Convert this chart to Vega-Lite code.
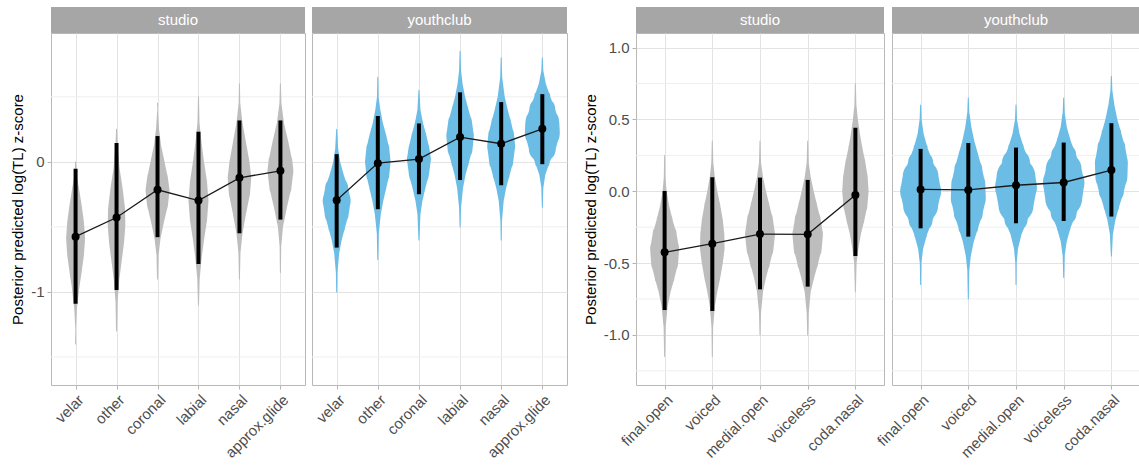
{
  "$schema": "https://vega.github.io/schema/vega-lite/v6.json",
  "padding": {"left": 10, "top": 7, "right": 0, "bottom": 0},
  "background": "white",
  "config": {
    "font": "Liberation Sans",
    "axis": {"labelFont": "Liberation Sans", "titleFont": "Liberation Sans", "labelFontSize": 15, "labelColor": "#4d4d4d", "tickColor": "#b3b3b3", "tickSize": 4, "domain": false, "titleFontWeight": "normal", "titleFontSize": 15, "titleColor": "#000000", "gridColor": "#e3e3e3"},
    "axisX": {"labelAngle": -45, "labelAlign": "right", "labelBaseline": "top", "labelPadding": 3, "grid": true, "title": null},
    "axisY": {"labelPadding": 3, "titlePadding": 5, "grid": true}
  },
  "datasets": {
    "gL": [{"g": -1.5}, {"g": -0.5}, {"g": 0.5}],
    "gR": [{"g": -1.25}, {"g": -0.75}, {"g": -0.25}, {"g": 0.25}, {"g": 0.75}],
    "vL": [
      {"s":"studio","c":"velar","v":0.0,"d":0},{"s":"studio","c":"velar","v":-0.1,"d":0.1},{"s":"studio","c":"velar","v":-0.2,"d":0.33},{"s":"studio","c":"velar","v":-0.33,"d":0.6},{"s":"studio","c":"velar","v":-0.46,"d":0.83},{"s":"studio","c":"velar","v":-0.59,"d":0.95},{"s":"studio","c":"velar","v":-0.72,"d":0.83},{"s":"studio","c":"velar","v":-0.85,"d":0.6},{"s":"studio","c":"velar","v":-0.97,"d":0.37},{"s":"studio","c":"velar","v":-1.13,"d":0.13},{"s":"studio","c":"velar","v":-1.28,"d":0.03},{"s":"studio","c":"velar","v":-1.4,"d":0},
      {"s":"studio","c":"other","v":0.25,"d":0},{"s":"studio","c":"other","v":0.13,"d":0.1},{"s":"studio","c":"other","v":-0.05,"d":0.3},{"s":"studio","c":"other","v":-0.2,"d":0.6},{"s":"studio","c":"other","v":-0.36,"d":0.85},{"s":"studio","c":"other","v":-0.49,"d":0.88},{"s":"studio","c":"other","v":-0.62,"d":0.75},{"s":"studio","c":"other","v":-0.77,"d":0.5},{"s":"studio","c":"other","v":-0.92,"d":0.25},{"s":"studio","c":"other","v":-1.08,"d":0.1},{"s":"studio","c":"other","v":-1.3,"d":0},
      {"s":"studio","c":"coronal","v":0.45,"d":0},{"s":"studio","c":"coronal","v":0.4,"d":0.03},{"s":"studio","c":"coronal","v":0.25,"d":0.15},{"s":"studio","c":"coronal","v":0.13,"d":0.35},{"s":"studio","c":"coronal","v":0.0,"d":0.7},{"s":"studio","c":"coronal","v":-0.13,"d":1.05},{"s":"studio","c":"coronal","v":-0.22,"d":1.2},{"s":"studio","c":"coronal","v":-0.33,"d":1.05},{"s":"studio","c":"coronal","v":-0.46,"d":0.65},{"s":"studio","c":"coronal","v":-0.59,"d":0.3},{"s":"studio","c":"coronal","v":-0.72,"d":0.1},{"s":"studio","c":"coronal","v":-0.9,"d":0},
      {"s":"studio","c":"labial","v":0.5,"d":0},{"s":"studio","c":"labial","v":0.3,"d":0.1},{"s":"studio","c":"labial","v":0.15,"d":0.3},{"s":"studio","c":"labial","v":0.0,"d":0.55},{"s":"studio","c":"labial","v":-0.15,"d":0.85},{"s":"studio","c":"labial","v":-0.3,"d":1.0},{"s":"studio","c":"labial","v":-0.45,"d":0.85},{"s":"studio","c":"labial","v":-0.6,"d":0.55},{"s":"studio","c":"labial","v":-0.75,"d":0.3},{"s":"studio","c":"labial","v":-0.9,"d":0.12},{"s":"studio","c":"labial","v":-1.1,"d":0},
      {"s":"studio","c":"nasal","v":0.6,"d":0},{"s":"studio","c":"nasal","v":0.45,"d":0.08},{"s":"studio","c":"nasal","v":0.3,"d":0.3},{"s":"studio","c":"nasal","v":0.15,"d":0.65},{"s":"studio","c":"nasal","v":0.0,"d":1.0},{"s":"studio","c":"nasal","v":-0.12,"d":1.18},{"s":"studio","c":"nasal","v":-0.25,"d":1.05},{"s":"studio","c":"nasal","v":-0.4,"d":0.65},{"s":"studio","c":"nasal","v":-0.55,"d":0.3},{"s":"studio","c":"nasal","v":-0.7,"d":0.1},{"s":"studio","c":"nasal","v":-0.9,"d":0},
      {"s":"studio","c":"approx.glide","v":0.6,"d":0},{"s":"studio","c":"approx.glide","v":0.45,"d":0.1},{"s":"studio","c":"approx.glide","v":0.3,"d":0.35},{"s":"studio","c":"approx.glide","v":0.15,"d":0.8},{"s":"studio","c":"approx.glide","v":0.0,"d":1.2},{"s":"studio","c":"approx.glide","v":-0.07,"d":1.3},{"s":"studio","c":"approx.glide","v":-0.2,"d":1.1},{"s":"studio","c":"approx.glide","v":-0.35,"d":0.65},{"s":"studio","c":"approx.glide","v":-0.5,"d":0.25},{"s":"studio","c":"approx.glide","v":-0.65,"d":0.08},{"s":"studio","c":"approx.glide","v":-0.85,"d":0},
      {"s":"youthclub","c":"velar","v":0.25,"d":0},{"s":"youthclub","c":"velar","v":0.1,"d":0.15},{"s":"youthclub","c":"velar","v":0.0,"d":0.35},{"s":"youthclub","c":"velar","v":-0.1,"d":0.7},{"s":"youthclub","c":"velar","v":-0.2,"d":1.15},{"s":"youthclub","c":"velar","v":-0.3,"d":1.4},{"s":"youthclub","c":"velar","v":-0.4,"d":1.2},{"s":"youthclub","c":"velar","v":-0.5,"d":0.85},{"s":"youthclub","c":"velar","v":-0.6,"d":0.5},{"s":"youthclub","c":"velar","v":-0.7,"d":0.25},{"s":"youthclub","c":"velar","v":-0.85,"d":0.08},{"s":"youthclub","c":"velar","v":-1.0,"d":0},
      {"s":"youthclub","c":"other","v":0.65,"d":0},{"s":"youthclub","c":"other","v":0.5,"d":0.08},{"s":"youthclub","c":"other","v":0.4,"d":0.25},{"s":"youthclub","c":"other","v":0.3,"d":0.5},{"s":"youthclub","c":"other","v":0.2,"d":0.85},{"s":"youthclub","c":"other","v":0.1,"d":1.15},{"s":"youthclub","c":"other","v":0.0,"d":1.28},{"s":"youthclub","c":"other","v":-0.1,"d":1.15},{"s":"youthclub","c":"other","v":-0.2,"d":0.85},{"s":"youthclub","c":"other","v":-0.3,"d":0.55},{"s":"youthclub","c":"other","v":-0.4,"d":0.3},{"s":"youthclub","c":"other","v":-0.55,"d":0.1},{"s":"youthclub","c":"other","v":-0.75,"d":0},
      {"s":"youthclub","c":"coronal","v":0.55,"d":0},{"s":"youthclub","c":"coronal","v":0.4,"d":0.15},{"s":"youthclub","c":"coronal","v":0.3,"d":0.4},{"s":"youthclub","c":"coronal","v":0.2,"d":0.75},{"s":"youthclub","c":"coronal","v":0.1,"d":1.05},{"s":"youthclub","c":"coronal","v":0.02,"d":1.2},{"s":"youthclub","c":"coronal","v":-0.1,"d":1.0},{"s":"youthclub","c":"coronal","v":-0.2,"d":0.65},{"s":"youthclub","c":"coronal","v":-0.3,"d":0.35},{"s":"youthclub","c":"coronal","v":-0.4,"d":0.15},{"s":"youthclub","c":"coronal","v":-0.6,"d":0},
      {"s":"youthclub","c":"labial","v":0.85,"d":0},{"s":"youthclub","c":"labial","v":0.7,"d":0.1},{"s":"youthclub","c":"labial","v":0.6,"d":0.25},{"s":"youthclub","c":"labial","v":0.5,"d":0.5},{"s":"youthclub","c":"labial","v":0.4,"d":0.85},{"s":"youthclub","c":"labial","v":0.3,"d":1.2},{"s":"youthclub","c":"labial","v":0.2,"d":1.38},{"s":"youthclub","c":"labial","v":0.1,"d":1.25},{"s":"youthclub","c":"labial","v":0.0,"d":0.9},{"s":"youthclub","c":"labial","v":-0.1,"d":0.55},{"s":"youthclub","c":"labial","v":-0.2,"d":0.3},{"s":"youthclub","c":"labial","v":-0.35,"d":0.1},{"s":"youthclub","c":"labial","v":-0.5,"d":0},
      {"s":"youthclub","c":"nasal","v":0.8,"d":0},{"s":"youthclub","c":"nasal","v":0.65,"d":0.1},{"s":"youthclub","c":"nasal","v":0.5,"d":0.35},{"s":"youthclub","c":"nasal","v":0.4,"d":0.65},{"s":"youthclub","c":"nasal","v":0.3,"d":1.0},{"s":"youthclub","c":"nasal","v":0.2,"d":1.3},{"s":"youthclub","c":"nasal","v":0.12,"d":1.4},{"s":"youthclub","c":"nasal","v":0.0,"d":1.2},{"s":"youthclub","c":"nasal","v":-0.1,"d":0.85},{"s":"youthclub","c":"nasal","v":-0.2,"d":0.5},{"s":"youthclub","c":"nasal","v":-0.3,"d":0.25},{"s":"youthclub","c":"nasal","v":-0.45,"d":0.08},{"s":"youthclub","c":"nasal","v":-0.6,"d":0},
      {"s":"youthclub","c":"approx.glide","v":0.8,"d":0},{"s":"youthclub","c":"approx.glide","v":0.7,"d":0.1},{"s":"youthclub","c":"approx.glide","v":0.6,"d":0.35},{"s":"youthclub","c":"approx.glide","v":0.5,"d":0.8},{"s":"youthclub","c":"approx.glide","v":0.4,"d":1.3},{"s":"youthclub","c":"approx.glide","v":0.3,"d":1.7},{"s":"youthclub","c":"approx.glide","v":0.22,"d":1.75},{"s":"youthclub","c":"approx.glide","v":0.1,"d":1.35},{"s":"youthclub","c":"approx.glide","v":0.0,"d":0.75},{"s":"youthclub","c":"approx.glide","v":-0.1,"d":0.3},{"s":"youthclub","c":"approx.glide","v":-0.2,"d":0.1},{"s":"youthclub","c":"approx.glide","v":-0.35,"d":0}
    ],
    "sL": [
      {"s":"studio","c":"velar","m":-0.575,"lo":-1.09,"hi":-0.054},
      {"s":"studio","c":"other","m":-0.428,"lo":-0.985,"hi":0.144},
      {"s":"studio","c":"coronal","m":-0.215,"lo":-0.579,"hi":0.198},
      {"s":"studio","c":"labial","m":-0.298,"lo":-0.785,"hi":0.231},
      {"s":"studio","c":"nasal","m":-0.123,"lo":-0.549,"hi":0.318},
      {"s":"studio","c":"approx.glide","m":-0.069,"lo":-0.444,"hi":0.318},
      {"s":"youthclub","c":"velar","m":-0.295,"lo":-0.659,"hi":0.059},
      {"s":"youthclub","c":"other","m":-0.01,"lo":-0.364,"hi":0.352},
      {"s":"youthclub","c":"coronal","m":0.021,"lo":-0.249,"hi":0.295},
      {"s":"youthclub","c":"labial","m":0.19,"lo":-0.14,"hi":0.534},
      {"s":"youthclub","c":"nasal","m":0.139,"lo":-0.18,"hi":0.459},
      {"s":"youthclub","c":"approx.glide","m":0.254,"lo":-0.018,"hi":0.52}
    ],
    "vR": [
      {"s":"studio","c":"final.open","v":0.25,"d":0},{"s":"studio","c":"final.open","v":0.1,"d":0.08},{"s":"studio","c":"final.open","v":0.0,"d":0.2},{"s":"studio","c":"final.open","v":-0.1,"d":0.45},{"s":"studio","c":"final.open","v":-0.2,"d":0.8},{"s":"studio","c":"final.open","v":-0.3,"d":1.2},{"s":"studio","c":"final.open","v":-0.4,"d":1.45},{"s":"studio","c":"final.open","v":-0.5,"d":1.35},{"s":"studio","c":"final.open","v":-0.6,"d":1.0},{"s":"studio","c":"final.open","v":-0.7,"d":0.6},{"s":"studio","c":"final.open","v":-0.8,"d":0.3},{"s":"studio","c":"final.open","v":-0.95,"d":0.1},{"s":"studio","c":"final.open","v":-1.15,"d":0},
      {"s":"studio","c":"voiced","v":0.35,"d":0},{"s":"studio","c":"voiced","v":0.2,"d":0.1},{"s":"studio","c":"voiced","v":0.1,"d":0.25},{"s":"studio","c":"voiced","v":0.0,"d":0.5},{"s":"studio","c":"voiced","v":-0.1,"d":0.8},{"s":"studio","c":"voiced","v":-0.2,"d":1.05},{"s":"studio","c":"voiced","v":-0.3,"d":1.2},{"s":"studio","c":"voiced","v":-0.4,"d":1.23},{"s":"studio","c":"voiced","v":-0.5,"d":1.05},{"s":"studio","c":"voiced","v":-0.6,"d":0.8},{"s":"studio","c":"voiced","v":-0.7,"d":0.5},{"s":"studio","c":"voiced","v":-0.8,"d":0.25},{"s":"studio","c":"voiced","v":-0.95,"d":0.08},{"s":"studio","c":"voiced","v":-1.15,"d":0},
      {"s":"studio","c":"medial.open","v":0.35,"d":0},{"s":"studio","c":"medial.open","v":0.2,"d":0.1},{"s":"studio","c":"medial.open","v":0.1,"d":0.3},{"s":"studio","c":"medial.open","v":0.0,"d":0.6},{"s":"studio","c":"medial.open","v":-0.1,"d":0.95},{"s":"studio","c":"medial.open","v":-0.2,"d":1.3},{"s":"studio","c":"medial.open","v":-0.3,"d":1.5},{"s":"studio","c":"medial.open","v":-0.4,"d":1.35},{"s":"studio","c":"medial.open","v":-0.5,"d":1.0},{"s":"studio","c":"medial.open","v":-0.6,"d":0.6},{"s":"studio","c":"medial.open","v":-0.7,"d":0.3},{"s":"studio","c":"medial.open","v":-0.85,"d":0.1},{"s":"studio","c":"medial.open","v":-1.0,"d":0},
      {"s":"studio","c":"voiceless","v":0.35,"d":0},{"s":"studio","c":"voiceless","v":0.2,"d":0.1},{"s":"studio","c":"voiceless","v":0.1,"d":0.3},{"s":"studio","c":"voiceless","v":0.0,"d":0.6},{"s":"studio","c":"voiceless","v":-0.1,"d":0.95},{"s":"studio","c":"voiceless","v":-0.2,"d":1.3},{"s":"studio","c":"voiceless","v":-0.3,"d":1.53},{"s":"studio","c":"voiceless","v":-0.4,"d":1.4},{"s":"studio","c":"voiceless","v":-0.5,"d":1.05},{"s":"studio","c":"voiceless","v":-0.6,"d":0.65},{"s":"studio","c":"voiceless","v":-0.7,"d":0.3},{"s":"studio","c":"voiceless","v":-0.85,"d":0.1},{"s":"studio","c":"voiceless","v":-1.0,"d":0},
      {"s":"studio","c":"coda.nasal","v":0.75,"d":0},{"s":"studio","c":"coda.nasal","v":0.6,"d":0.1},{"s":"studio","c":"coda.nasal","v":0.5,"d":0.25},{"s":"studio","c":"coda.nasal","v":0.4,"d":0.45},{"s":"studio","c":"coda.nasal","v":0.3,"d":0.7},{"s":"studio","c":"coda.nasal","v":0.2,"d":1.0},{"s":"studio","c":"coda.nasal","v":0.1,"d":1.23},{"s":"studio","c":"coda.nasal","v":0.0,"d":1.32},{"s":"studio","c":"coda.nasal","v":-0.1,"d":1.2},{"s":"studio","c":"coda.nasal","v":-0.2,"d":0.9},{"s":"studio","c":"coda.nasal","v":-0.3,"d":0.55},{"s":"studio","c":"coda.nasal","v":-0.4,"d":0.3},{"s":"studio","c":"coda.nasal","v":-0.5,"d":0.12},{"s":"studio","c":"coda.nasal","v":-0.7,"d":0},
      {"s":"youthclub","c":"final.open","v":0.6,"d":0},{"s":"youthclub","c":"final.open","v":0.5,"d":0.1},{"s":"youthclub","c":"final.open","v":0.4,"d":0.3},{"s":"youthclub","c":"final.open","v":0.3,"d":0.7},{"s":"youthclub","c":"final.open","v":0.2,"d":1.25},{"s":"youthclub","c":"final.open","v":0.1,"d":1.8},{"s":"youthclub","c":"final.open","v":0.0,"d":2.05},{"s":"youthclub","c":"final.open","v":-0.1,"d":1.75},{"s":"youthclub","c":"final.open","v":-0.2,"d":1.2},{"s":"youthclub","c":"final.open","v":-0.3,"d":0.65},{"s":"youthclub","c":"final.open","v":-0.4,"d":0.25},{"s":"youthclub","c":"final.open","v":-0.5,"d":0.08},{"s":"youthclub","c":"final.open","v":-0.65,"d":0},
      {"s":"youthclub","c":"voiced","v":0.65,"d":0},{"s":"youthclub","c":"voiced","v":0.55,"d":0.1},{"s":"youthclub","c":"voiced","v":0.45,"d":0.3},{"s":"youthclub","c":"voiced","v":0.35,"d":0.6},{"s":"youthclub","c":"voiced","v":0.25,"d":1.0},{"s":"youthclub","c":"voiced","v":0.15,"d":1.4},{"s":"youthclub","c":"voiced","v":0.05,"d":1.7},{"s":"youthclub","c":"voiced","v":-0.05,"d":1.75},{"s":"youthclub","c":"voiced","v":-0.15,"d":1.45},{"s":"youthclub","c":"voiced","v":-0.25,"d":1.0},{"s":"youthclub","c":"voiced","v":-0.35,"d":0.55},{"s":"youthclub","c":"voiced","v":-0.45,"d":0.25},{"s":"youthclub","c":"voiced","v":-0.55,"d":0.1},{"s":"youthclub","c":"voiced","v":-0.75,"d":0},
      {"s":"youthclub","c":"medial.open","v":0.6,"d":0},{"s":"youthclub","c":"medial.open","v":0.5,"d":0.1},{"s":"youthclub","c":"medial.open","v":0.4,"d":0.35},{"s":"youthclub","c":"medial.open","v":0.3,"d":0.8},{"s":"youthclub","c":"medial.open","v":0.2,"d":1.4},{"s":"youthclub","c":"medial.open","v":0.1,"d":1.95},{"s":"youthclub","c":"medial.open","v":0.03,"d":2.1},{"s":"youthclub","c":"medial.open","v":-0.1,"d":1.75},{"s":"youthclub","c":"medial.open","v":-0.2,"d":1.15},{"s":"youthclub","c":"medial.open","v":-0.3,"d":0.55},{"s":"youthclub","c":"medial.open","v":-0.4,"d":0.2},{"s":"youthclub","c":"medial.open","v":-0.5,"d":0.07},{"s":"youthclub","c":"medial.open","v":-0.65,"d":0},
      {"s":"youthclub","c":"voiceless","v":0.65,"d":0},{"s":"youthclub","c":"voiceless","v":0.55,"d":0.1},{"s":"youthclub","c":"voiceless","v":0.45,"d":0.3},{"s":"youthclub","c":"voiceless","v":0.35,"d":0.7},{"s":"youthclub","c":"voiceless","v":0.25,"d":1.25},{"s":"youthclub","c":"voiceless","v":0.15,"d":1.8},{"s":"youthclub","c":"voiceless","v":0.06,"d":2.08},{"s":"youthclub","c":"voiceless","v":-0.05,"d":1.85},{"s":"youthclub","c":"voiceless","v":-0.15,"d":1.3},{"s":"youthclub","c":"voiceless","v":-0.25,"d":0.7},{"s":"youthclub","c":"voiceless","v":-0.35,"d":0.3},{"s":"youthclub","c":"voiceless","v":-0.45,"d":0.1},{"s":"youthclub","c":"voiceless","v":-0.6,"d":0},
      {"s":"youthclub","c":"coda.nasal","v":0.8,"d":0},{"s":"youthclub","c":"coda.nasal","v":0.7,"d":0.1},{"s":"youthclub","c":"coda.nasal","v":0.6,"d":0.3},{"s":"youthclub","c":"coda.nasal","v":0.5,"d":0.6},{"s":"youthclub","c":"coda.nasal","v":0.4,"d":1.0},{"s":"youthclub","c":"coda.nasal","v":0.3,"d":1.4},{"s":"youthclub","c":"coda.nasal","v":0.2,"d":1.65},{"s":"youthclub","c":"coda.nasal","v":0.1,"d":1.6},{"s":"youthclub","c":"coda.nasal","v":0.0,"d":1.25},{"s":"youthclub","c":"coda.nasal","v":-0.1,"d":0.8},{"s":"youthclub","c":"coda.nasal","v":-0.2,"d":0.4},{"s":"youthclub","c":"coda.nasal","v":-0.3,"d":0.15},{"s":"youthclub","c":"coda.nasal","v":-0.45,"d":0}
    ],
    "sR": [
      {"s":"studio","c":"final.open","m":-0.425,"lo":-0.827,"hi":0.002},
      {"s":"studio","c":"voiced","m":-0.365,"lo":-0.834,"hi":0.097},
      {"s":"studio","c":"medial.open","m":-0.298,"lo":-0.683,"hi":0.095},
      {"s":"studio","c":"voiceless","m":-0.3,"lo":-0.664,"hi":0.079},
      {"s":"studio","c":"coda.nasal","m":-0.026,"lo":-0.45,"hi":0.443},
      {"s":"youthclub","c":"final.open","m":0.013,"lo":-0.258,"hi":0.295},
      {"s":"youthclub","c":"voiced","m":0.009,"lo":-0.316,"hi":0.336},
      {"s":"youthclub","c":"medial.open","m":0.042,"lo":-0.223,"hi":0.304},
      {"s":"youthclub","c":"voiceless","m":0.061,"lo":-0.207,"hi":0.339},
      {"s":"youthclub","c":"coda.nasal","m":0.148,"lo":-0.176,"hi":0.474}
    ]
  },
  "spacing": 14,
  "hconcat": [
    {
      "spacing": 5,
      "hconcat": [
        {
          "spacing": 0, "bounds": "flush",
          "vconcat": [
            {"width": 254, "height": 26, "view": {"fill": "#a6a6a6", "stroke": null}, "data": {"values": [{"t": "studio"}]}, "mark": {"type": "text", "color": "white", "fontSize": 15, "fontWeight": "normal"}, "encoding": {"text": {"field": "t"}}},
            {
              "width": 254, "height": 352, "view": {"stroke": "#b8b8b8"},
              "layer": [
                {"data": {"name": "gL"}, "mark": {"type": "rule", "color": "#efefef", "strokeWidth": 1},
                 "encoding": {"y": {"field": "g", "type": "quantitative", "title": "Posterior predicted log(TL) z-score", "scale": {"domain": [-1.715, 0.99], "nice": false, "zero": false},
                   "axis": {"values": [-1, 0], "labelExpr": "datum.value == 0 ? '0' : '-1'"}}}},
                {"data": {"name": "vL"}, "transform": [{"filter": "datum.s == 'studio'"}], "mark": {"type": "trail", "color": "#bdbdbd"},
                 "encoding": {"x": {"field": "c", "type": "nominal", "sort": ["velar","other","coronal","labial","nasal","approx.glide"], "scale": {"type": "point", "padding": 0.6}, "title": null},
                   "y": {"field": "v", "type": "quantitative", "title": "Posterior predicted log(TL) z-score"},
                   "size": {"field": "d", "type": "quantitative", "scale": {"domain": [0, 1], "range": [0, 20]}, "legend": null},
                   "detail": {"field": "c"}, "order": {"field": "v", "type": "quantitative"}}},
                {"data": {"name": "sL"}, "transform": [{"filter": "datum.s == 'studio'"}], "mark": {"type": "rule", "strokeWidth": 4, "color": "#000000"},
                 "encoding": {"x": {"field": "c", "type": "nominal", "sort": ["velar","other","coronal","labial","nasal","approx.glide"], "title": null}, "y": {"field": "lo", "type": "quantitative", "title": "Posterior predicted log(TL) z-score"}, "y2": {"field": "hi"}}},
                {"data": {"name": "sL"}, "transform": [{"filter": "datum.s == 'studio'"}], "mark": {"type": "line", "strokeWidth": 1.3, "color": "#1a1a1a"},
                 "encoding": {"x": {"field": "c", "type": "nominal", "sort": ["velar","other","coronal","labial","nasal","approx.glide"], "title": null}, "y": {"field": "m", "type": "quantitative", "title": "Posterior predicted log(TL) z-score"}}},
                {"data": {"name": "sL"}, "transform": [{"filter": "datum.s == 'studio'"}], "mark": {"type": "point", "filled": true, "size": 64, "color": "#000000", "opacity": 1},
                 "encoding": {"x": {"field": "c", "type": "nominal", "sort": ["velar","other","coronal","labial","nasal","approx.glide"], "title": null}, "y": {"field": "m", "type": "quantitative", "title": "Posterior predicted log(TL) z-score"}}}
              ]
            }
          ]
        },
        {
          "spacing": 0, "bounds": "flush",
          "vconcat": [
            {"width": 255, "height": 26, "view": {"fill": "#a6a6a6", "stroke": null}, "data": {"values": [{"t": "youthclub"}]}, "mark": {"type": "text", "color": "white", "fontSize": 15, "fontWeight": "normal"}, "encoding": {"text": {"field": "t"}}},
            {
              "width": 255, "height": 352, "view": {"stroke": "#b8b8b8"},
              "layer": [
                {"data": {"name": "gL"}, "mark": {"type": "rule", "color": "#efefef", "strokeWidth": 1},
                 "encoding": {"y": {"field": "g", "type": "quantitative", "title": null, "scale": {"domain": [-1.715, 0.99], "nice": false, "zero": false},
                   "axis": {"values": [-1, 0], "labels": false, "ticks": false}}}},
                {"data": {"name": "vL"}, "transform": [{"filter": "datum.s == 'youthclub'"}], "mark": {"type": "trail", "color": "#6cbde6"},
                 "encoding": {"x": {"field": "c", "type": "nominal", "sort": ["velar","other","coronal","labial","nasal","approx.glide"], "scale": {"type": "point", "padding": 0.6}, "title": null},
                   "y": {"field": "v", "type": "quantitative", "title": null},
                   "size": {"field": "d", "type": "quantitative", "scale": {"domain": [0, 1], "range": [0, 20]}, "legend": null},
                   "detail": {"field": "c"}, "order": {"field": "v", "type": "quantitative"}}},
                {"data": {"name": "sL"}, "transform": [{"filter": "datum.s == 'youthclub'"}], "mark": {"type": "rule", "strokeWidth": 4, "color": "#000000"},
                 "encoding": {"x": {"field": "c", "type": "nominal", "sort": ["velar","other","coronal","labial","nasal","approx.glide"], "title": null}, "y": {"field": "lo", "type": "quantitative", "title": null}, "y2": {"field": "hi"}}},
                {"data": {"name": "sL"}, "transform": [{"filter": "datum.s == 'youthclub'"}], "mark": {"type": "line", "strokeWidth": 1.3, "color": "#1a1a1a"},
                 "encoding": {"x": {"field": "c", "type": "nominal", "sort": ["velar","other","coronal","labial","nasal","approx.glide"], "title": null}, "y": {"field": "m", "type": "quantitative", "title": null}}},
                {"data": {"name": "sL"}, "transform": [{"filter": "datum.s == 'youthclub'"}], "mark": {"type": "point", "filled": true, "size": 64, "color": "#000000", "opacity": 1},
                 "encoding": {"x": {"field": "c", "type": "nominal", "sort": ["velar","other","coronal","labial","nasal","approx.glide"], "title": null}, "y": {"field": "m", "type": "quantitative", "title": null}}}
              ]
            }
          ]
        }
      ]
    },
    {
      "spacing": -11,
      "hconcat": [
        {
          "spacing": 0, "bounds": "flush",
          "vconcat": [
            {"width": 248, "height": 26, "view": {"fill": "#a6a6a6", "stroke": null}, "data": {"values": [{"t": "studio"}]}, "mark": {"type": "text", "color": "white", "fontSize": 15, "fontWeight": "normal"}, "encoding": {"text": {"field": "t"}}},
            {
              "width": 248, "height": 352, "view": {"stroke": "#b8b8b8"},
              "layer": [
                {"data": {"name": "gR"}, "mark": {"type": "rule", "color": "#efefef", "strokeWidth": 1},
                 "encoding": {"y": {"field": "g", "type": "quantitative", "title": "Posterior predicted log(TL) z-score", "scale": {"domain": [-1.349, 1.102], "nice": false, "zero": false},
                   "axis": {"values": [-1, -0.5, 0, 0.5, 1], "labelExpr": "datum.value == 1 ? '1.0' : datum.value == 0.5 ? '0.5' : datum.value == 0 ? '0.0' : datum.value == -0.5 ? '-0.5' : '-1.0'"}}}},
                {"data": {"name": "vR"}, "transform": [{"filter": "datum.s == 'studio'"}], "mark": {"type": "trail", "color": "#bdbdbd"},
                 "encoding": {"x": {"field": "c", "type": "nominal", "sort": ["final.open","voiced","medial.open","voiceless","coda.nasal"], "scale": {"type": "point", "padding": 0.6}, "title": null},
                   "y": {"field": "v", "type": "quantitative", "title": "Posterior predicted log(TL) z-score"},
                   "size": {"field": "d", "type": "quantitative", "scale": {"domain": [0, 1], "range": [0, 20]}, "legend": null},
                   "detail": {"field": "c"}, "order": {"field": "v", "type": "quantitative"}}},
                {"data": {"name": "sR"}, "transform": [{"filter": "datum.s == 'studio'"}], "mark": {"type": "rule", "strokeWidth": 4, "color": "#000000"},
                 "encoding": {"x": {"field": "c", "type": "nominal", "sort": ["final.open","voiced","medial.open","voiceless","coda.nasal"], "title": null}, "y": {"field": "lo", "type": "quantitative", "title": "Posterior predicted log(TL) z-score"}, "y2": {"field": "hi"}}},
                {"data": {"name": "sR"}, "transform": [{"filter": "datum.s == 'studio'"}], "mark": {"type": "line", "strokeWidth": 1.3, "color": "#1a1a1a"},
                 "encoding": {"x": {"field": "c", "type": "nominal", "sort": ["final.open","voiced","medial.open","voiceless","coda.nasal"], "title": null}, "y": {"field": "m", "type": "quantitative", "title": "Posterior predicted log(TL) z-score"}}},
                {"data": {"name": "sR"}, "transform": [{"filter": "datum.s == 'studio'"}], "mark": {"type": "point", "filled": true, "size": 64, "color": "#000000", "opacity": 1},
                 "encoding": {"x": {"field": "c", "type": "nominal", "sort": ["final.open","voiced","medial.open","voiceless","coda.nasal"], "title": null}, "y": {"field": "m", "type": "quantitative", "title": "Posterior predicted log(TL) z-score"}}}
              ]
            }
          ]
        },
        {
          "spacing": 0, "bounds": "flush",
          "vconcat": [
            {"width": 248, "height": 26, "view": {"fill": "#a6a6a6", "stroke": null}, "data": {"values": [{"t": "youthclub"}]}, "mark": {"type": "text", "color": "white", "fontSize": 15, "fontWeight": "normal"}, "encoding": {"text": {"field": "t"}}},
            {
              "width": 248, "height": 352, "view": {"stroke": "#b8b8b8"},
              "layer": [
                {"data": {"name": "gR"}, "mark": {"type": "rule", "color": "#efefef", "strokeWidth": 1},
                 "encoding": {"y": {"field": "g", "type": "quantitative", "title": null, "scale": {"domain": [-1.349, 1.102], "nice": false, "zero": false},
                   "axis": {"values": [-1, -0.5, 0, 0.5, 1], "labels": false, "ticks": false}}}},
                {"data": {"name": "vR"}, "transform": [{"filter": "datum.s == 'youthclub'"}], "mark": {"type": "trail", "color": "#6cbde6"},
                 "encoding": {"x": {"field": "c", "type": "nominal", "sort": ["final.open","voiced","medial.open","voiceless","coda.nasal"], "scale": {"type": "point", "padding": 0.6}, "title": null},
                   "y": {"field": "v", "type": "quantitative", "title": null},
                   "size": {"field": "d", "type": "quantitative", "scale": {"domain": [0, 1], "range": [0, 20]}, "legend": null},
                   "detail": {"field": "c"}, "order": {"field": "v", "type": "quantitative"}}},
                {"data": {"name": "sR"}, "transform": [{"filter": "datum.s == 'youthclub'"}], "mark": {"type": "rule", "strokeWidth": 4, "color": "#000000"},
                 "encoding": {"x": {"field": "c", "type": "nominal", "sort": ["final.open","voiced","medial.open","voiceless","coda.nasal"], "title": null}, "y": {"field": "lo", "type": "quantitative", "title": null}, "y2": {"field": "hi"}}},
                {"data": {"name": "sR"}, "transform": [{"filter": "datum.s == 'youthclub'"}], "mark": {"type": "line", "strokeWidth": 1.3, "color": "#1a1a1a"},
                 "encoding": {"x": {"field": "c", "type": "nominal", "sort": ["final.open","voiced","medial.open","voiceless","coda.nasal"], "title": null}, "y": {"field": "m", "type": "quantitative", "title": null}}},
                {"data": {"name": "sR"}, "transform": [{"filter": "datum.s == 'youthclub'"}], "mark": {"type": "point", "filled": true, "size": 64, "color": "#000000", "opacity": 1},
                 "encoding": {"x": {"field": "c", "type": "nominal", "sort": ["final.open","voiced","medial.open","voiceless","coda.nasal"], "title": null}, "y": {"field": "m", "type": "quantitative", "title": null}}}
              ]
            }
          ]
        }
      ]
    }
  ]
}
